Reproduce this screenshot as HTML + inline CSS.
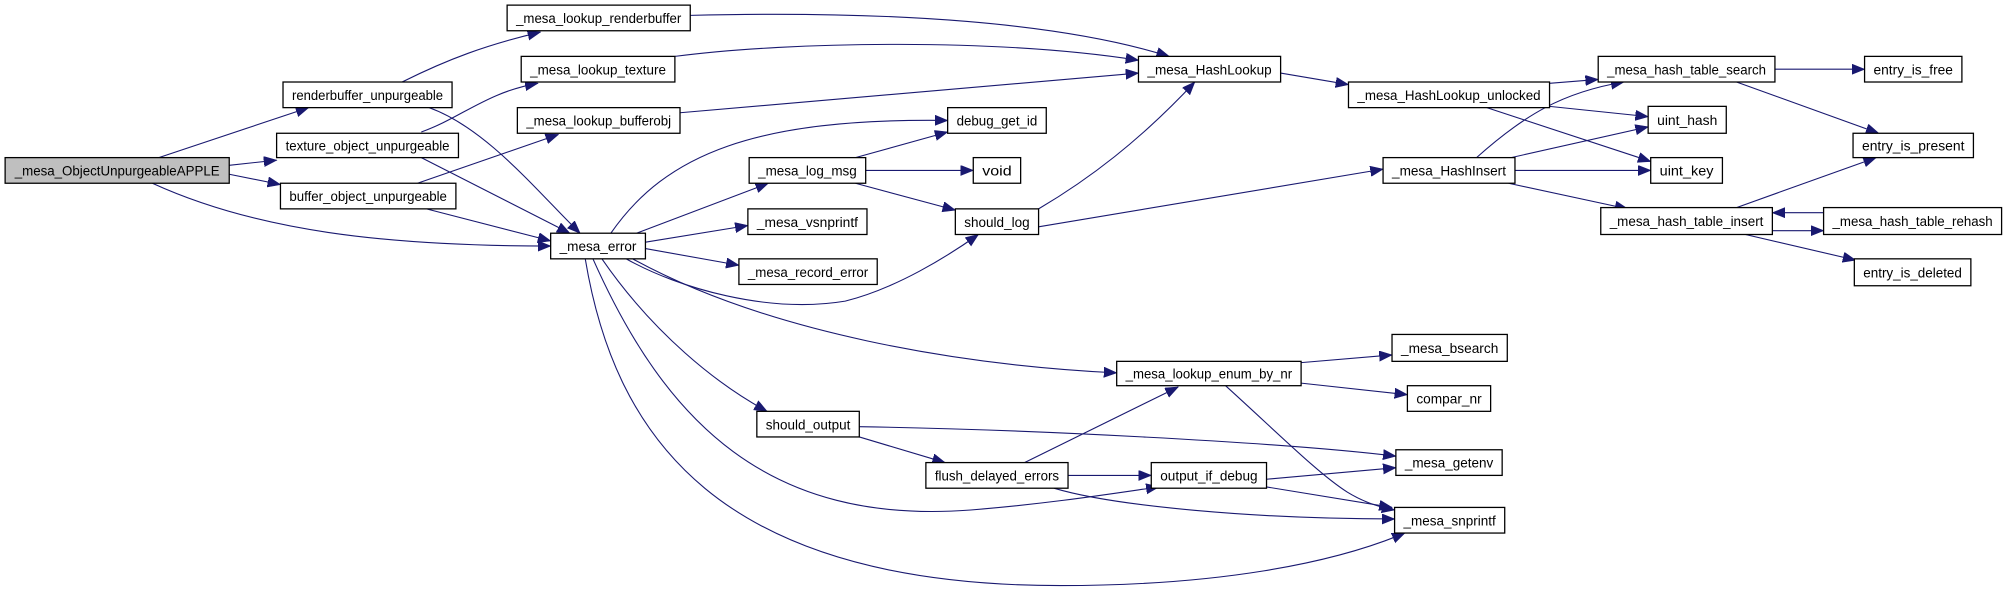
<!DOCTYPE html>
<html><head><meta charset="utf-8"><style>
html,body{margin:0;padding:0;background:#fff;}
svg{display:block;}
text{font-family:"Liberation Sans",sans-serif;font-size:10.5px;fill:#000;}
.n{fill:#fff;stroke:#000;stroke-width:1;}
.e{fill:none;stroke:#191970;stroke-width:0.85;}
</style></head><body>
<svg width="2008" height="592" viewBox="0 0 1568 462" preserveAspectRatio="none" xmlns="http://www.w3.org/2000/svg">
<defs><marker id="a" markerUnits="userSpaceOnUse" markerWidth="12" markerHeight="10" refX="10" refY="4" orient="auto"><path d="M0,0 L10,4 L0,8 Z" fill="#191970" stroke="#191970" stroke-width="0.5"/></marker></defs>
<g marker-end="url(#a)">
<path class="e" d="M124,123 L241,84"/>
<path class="e" d="M179,129 L216,125"/>
<path class="e" d="M179,136 L219,144"/>
<path class="e" d="M119,143 C200,180 300,192 430,192"/>
<path class="e" d="M314,64 C350,46 380,35 422,25"/>
<path class="e" d="M335,84 C380,100 420,150 453,182"/>
<path class="e" d="M329,103 C360,92 380,72 420,65"/>
<path class="e" d="M329,123 L445,182"/>
<path class="e" d="M326,143 L436,105"/>
<path class="e" d="M333,163 L430,188"/>
<path class="e" d="M539,12 C700,8 830,18 913,44"/>
<path class="e" d="M527,44 C620,32 780,30 889,47"/>
<path class="e" d="M531,88 L889,57"/>
<path class="e" d="M1000,57 L1053,66"/>
<path class="e" d="M811,163 C850,140 890,110 933,64"/>
<path class="e" d="M811,177 L1080,132"/>
<path class="e" d="M477,182 C520,120 590,92 740,94"/>
<path class="e" d="M497,182 L600,143"/>
<path class="e" d="M504,189 L584,176"/>
<path class="e" d="M504,194 L577,207"/>
<path class="e" d="M489,202 C530,225 600,245 660,235 C700,225 740,200 764,183"/>
<path class="e" d="M494,202 C600,260 750,285 872,291"/>
<path class="e" d="M470,202 C510,260 560,300 599,321"/>
<path class="e" d="M463,202 C520,330 600,410 758,398 C820,393 870,385 905,380"/>
<path class="e" d="M457,202 C480,340 560,457 828,457 C950,457 1040,440 1097,416"/>
<path class="e" d="M668,123 L740,103"/>
<path class="e" d="M676,133 L760,133"/>
<path class="e" d="M668,143 L746,164"/>
<path class="e" d="M1210,65 L1248,62"/>
<path class="e" d="M1210,83 L1287,91"/>
<path class="e" d="M1161,84 L1289,126"/>
<path class="e" d="M1153,123 C1190,90 1220,72 1268,64"/>
<path class="e" d="M1180,123 L1287,99"/>
<path class="e" d="M1183,133 L1289,133"/>
<path class="e" d="M1178,143 L1271,163"/>
<path class="e" d="M1386,54 L1456,54"/>
<path class="e" d="M1356,64 L1467,104"/>
<path class="e" d="M1356,162 L1465,123"/>
<path class="e" d="M1384,180 L1424,180"/>
<path class="e" d="M1424,166 L1384,166"/>
<path class="e" d="M1363,183 L1449,203"/>
<path class="e" d="M1016,283 L1087,277"/>
<path class="e" d="M1016,299 L1099,308"/>
<path class="e" d="M957,301 C1000,340 1030,370 1052,384 C1065,392 1078,396 1089,398"/>
<path class="e" d="M671,333 C800,335 1000,345 1090,356"/>
<path class="e" d="M671,341 L738,361"/>
<path class="e" d="M800,361 L920,302"/>
<path class="e" d="M834,371 L899,371"/>
<path class="e" d="M823,381 C870,395 980,405 1089,405"/>
<path class="e" d="M989,374 L1090,365"/>
<path class="e" d="M989,380 L1087,396"/>
</g>
<g>
<rect x="4" y="123" width="175" height="20" style="fill:#bfbfbf;stroke:#000;stroke-width:1"/>
<text x="91.5" y="137" text-anchor="middle" textLength="160" lengthAdjust="spacingAndGlyphs">_mesa_ObjectUnpurgeableAPPLE</text>
<rect class="n" x="221" y="64" width="132" height="20"/><text x="287" y="78" text-anchor="middle" textLength="118" lengthAdjust="spacingAndGlyphs">renderbuffer_unpurgeable</text>
<rect class="n" x="216" y="104" width="142" height="19"/><text x="287" y="117.5" text-anchor="middle" textLength="128" lengthAdjust="spacingAndGlyphs">texture_object_unpurgeable</text>
<rect class="n" x="219" y="143" width="137" height="20"/><text x="287.5" y="157" text-anchor="middle" textLength="123" lengthAdjust="spacingAndGlyphs">buffer_object_unpurgeable</text>
<rect class="n" x="396" y="4" width="143" height="20"/><text x="467.5" y="18" text-anchor="middle" textLength="129" lengthAdjust="spacingAndGlyphs">_mesa_lookup_renderbuffer</text>
<rect class="n" x="407" y="44" width="120" height="20"/><text x="467" y="58" text-anchor="middle" textLength="106" lengthAdjust="spacingAndGlyphs">_mesa_lookup_texture</text>
<rect class="n" x="404" y="84" width="127" height="20"/><text x="467.5" y="98" text-anchor="middle" textLength="113" lengthAdjust="spacingAndGlyphs">_mesa_lookup_bufferobj</text>
<rect class="n" x="430" y="182" width="74" height="20"/><text x="467" y="196" text-anchor="middle" textLength="60" lengthAdjust="spacingAndGlyphs">_mesa_error</text>
<rect class="n" x="889" y="44" width="111" height="20"/><text x="944.5" y="58" text-anchor="middle" textLength="97" lengthAdjust="spacingAndGlyphs">_mesa_HashLookup</text>
<rect class="n" x="1053" y="64" width="157" height="20"/><text x="1131.5" y="78" text-anchor="middle" textLength="143" lengthAdjust="spacingAndGlyphs">_mesa_HashLookup_unlocked</text>
<rect class="n" x="1248" y="44" width="138" height="20"/><text x="1317" y="58" text-anchor="middle" textLength="124" lengthAdjust="spacingAndGlyphs">_mesa_hash_table_search</text>
<rect class="n" x="1456" y="44" width="76" height="20"/><text x="1494" y="58" text-anchor="middle" textLength="62" lengthAdjust="spacingAndGlyphs">entry_is_free</text>
<rect class="n" x="1287" y="83" width="61" height="21"/><text x="1317.5" y="97.5" text-anchor="middle" textLength="47" lengthAdjust="spacingAndGlyphs">uint_hash</text>
<rect class="n" x="1289" y="123" width="56" height="20"/><text x="1317" y="137" text-anchor="middle" textLength="42" lengthAdjust="spacingAndGlyphs">uint_key</text>
<rect class="n" x="1447" y="104" width="94" height="19"/><text x="1494" y="117.5" text-anchor="middle" textLength="80" lengthAdjust="spacingAndGlyphs">entry_is_present</text>
<rect class="n" x="1080" y="123" width="103" height="20"/><text x="1131.5" y="137" text-anchor="middle" textLength="89" lengthAdjust="spacingAndGlyphs">_mesa_HashInsert</text>
<rect class="n" x="1250" y="162" width="134" height="21"/><text x="1317" y="176.5" text-anchor="middle" textLength="120" lengthAdjust="spacingAndGlyphs">_mesa_hash_table_insert</text>
<rect class="n" x="1424" y="162" width="139" height="21"/><text x="1493.5" y="176.5" text-anchor="middle" textLength="125" lengthAdjust="spacingAndGlyphs">_mesa_hash_table_rehash</text>
<rect class="n" x="1448" y="202" width="91" height="21"/><text x="1493.5" y="216.5" text-anchor="middle" textLength="77" lengthAdjust="spacingAndGlyphs">entry_is_deleted</text>
<rect class="n" x="740" y="84" width="77" height="20"/><text x="778.5" y="98" text-anchor="middle" textLength="63" lengthAdjust="spacingAndGlyphs">debug_get_id</text>
<rect class="n" x="585" y="123" width="91" height="20"/><text x="630.5" y="137" text-anchor="middle" textLength="77" lengthAdjust="spacingAndGlyphs">_mesa_log_msg</text>
<rect class="n" x="760" y="123" width="37" height="20"/><text x="778.5" y="137" text-anchor="middle" textLength="23" lengthAdjust="spacingAndGlyphs">void</text>
<rect class="n" x="746" y="163" width="65" height="20"/><text x="778.5" y="177" text-anchor="middle" textLength="51" lengthAdjust="spacingAndGlyphs">should_log</text>
<rect class="n" x="584" y="163" width="93" height="20"/><text x="630.5" y="177" text-anchor="middle" textLength="79" lengthAdjust="spacingAndGlyphs">_mesa_vsnprintf</text>
<rect class="n" x="577" y="202" width="108" height="20"/><text x="631" y="216" text-anchor="middle" textLength="94" lengthAdjust="spacingAndGlyphs">_mesa_record_error</text>
<rect class="n" x="872" y="282" width="144" height="19"/><text x="944" y="295.5" text-anchor="middle" textLength="130" lengthAdjust="spacingAndGlyphs">_mesa_lookup_enum_by_nr</text>
<rect class="n" x="1087" y="261" width="90" height="21"/><text x="1132" y="275.5" text-anchor="middle" textLength="76" lengthAdjust="spacingAndGlyphs">_mesa_bsearch</text>
<rect class="n" x="1099" y="301" width="65" height="20"/><text x="1131.5" y="315" text-anchor="middle" textLength="51" lengthAdjust="spacingAndGlyphs">compar_nr</text>
<rect class="n" x="591" y="321" width="80" height="20"/><text x="631" y="335" text-anchor="middle" textLength="66" lengthAdjust="spacingAndGlyphs">should_output</text>
<rect class="n" x="723" y="361" width="111" height="20"/><text x="778.5" y="375" text-anchor="middle" textLength="97" lengthAdjust="spacingAndGlyphs">flush_delayed_errors</text>
<rect class="n" x="899" y="361" width="90" height="20"/><text x="944" y="375" text-anchor="middle" textLength="76" lengthAdjust="spacingAndGlyphs">output_if_debug</text>
<rect class="n" x="1090" y="351" width="83" height="20"/><text x="1131.5" y="365" text-anchor="middle" textLength="69" lengthAdjust="spacingAndGlyphs">_mesa_getenv</text>
<rect class="n" x="1089" y="396" width="86" height="20"/><text x="1132" y="410" text-anchor="middle" textLength="72" lengthAdjust="spacingAndGlyphs">_mesa_snprintf</text>
</g>
</svg>
</body></html>
